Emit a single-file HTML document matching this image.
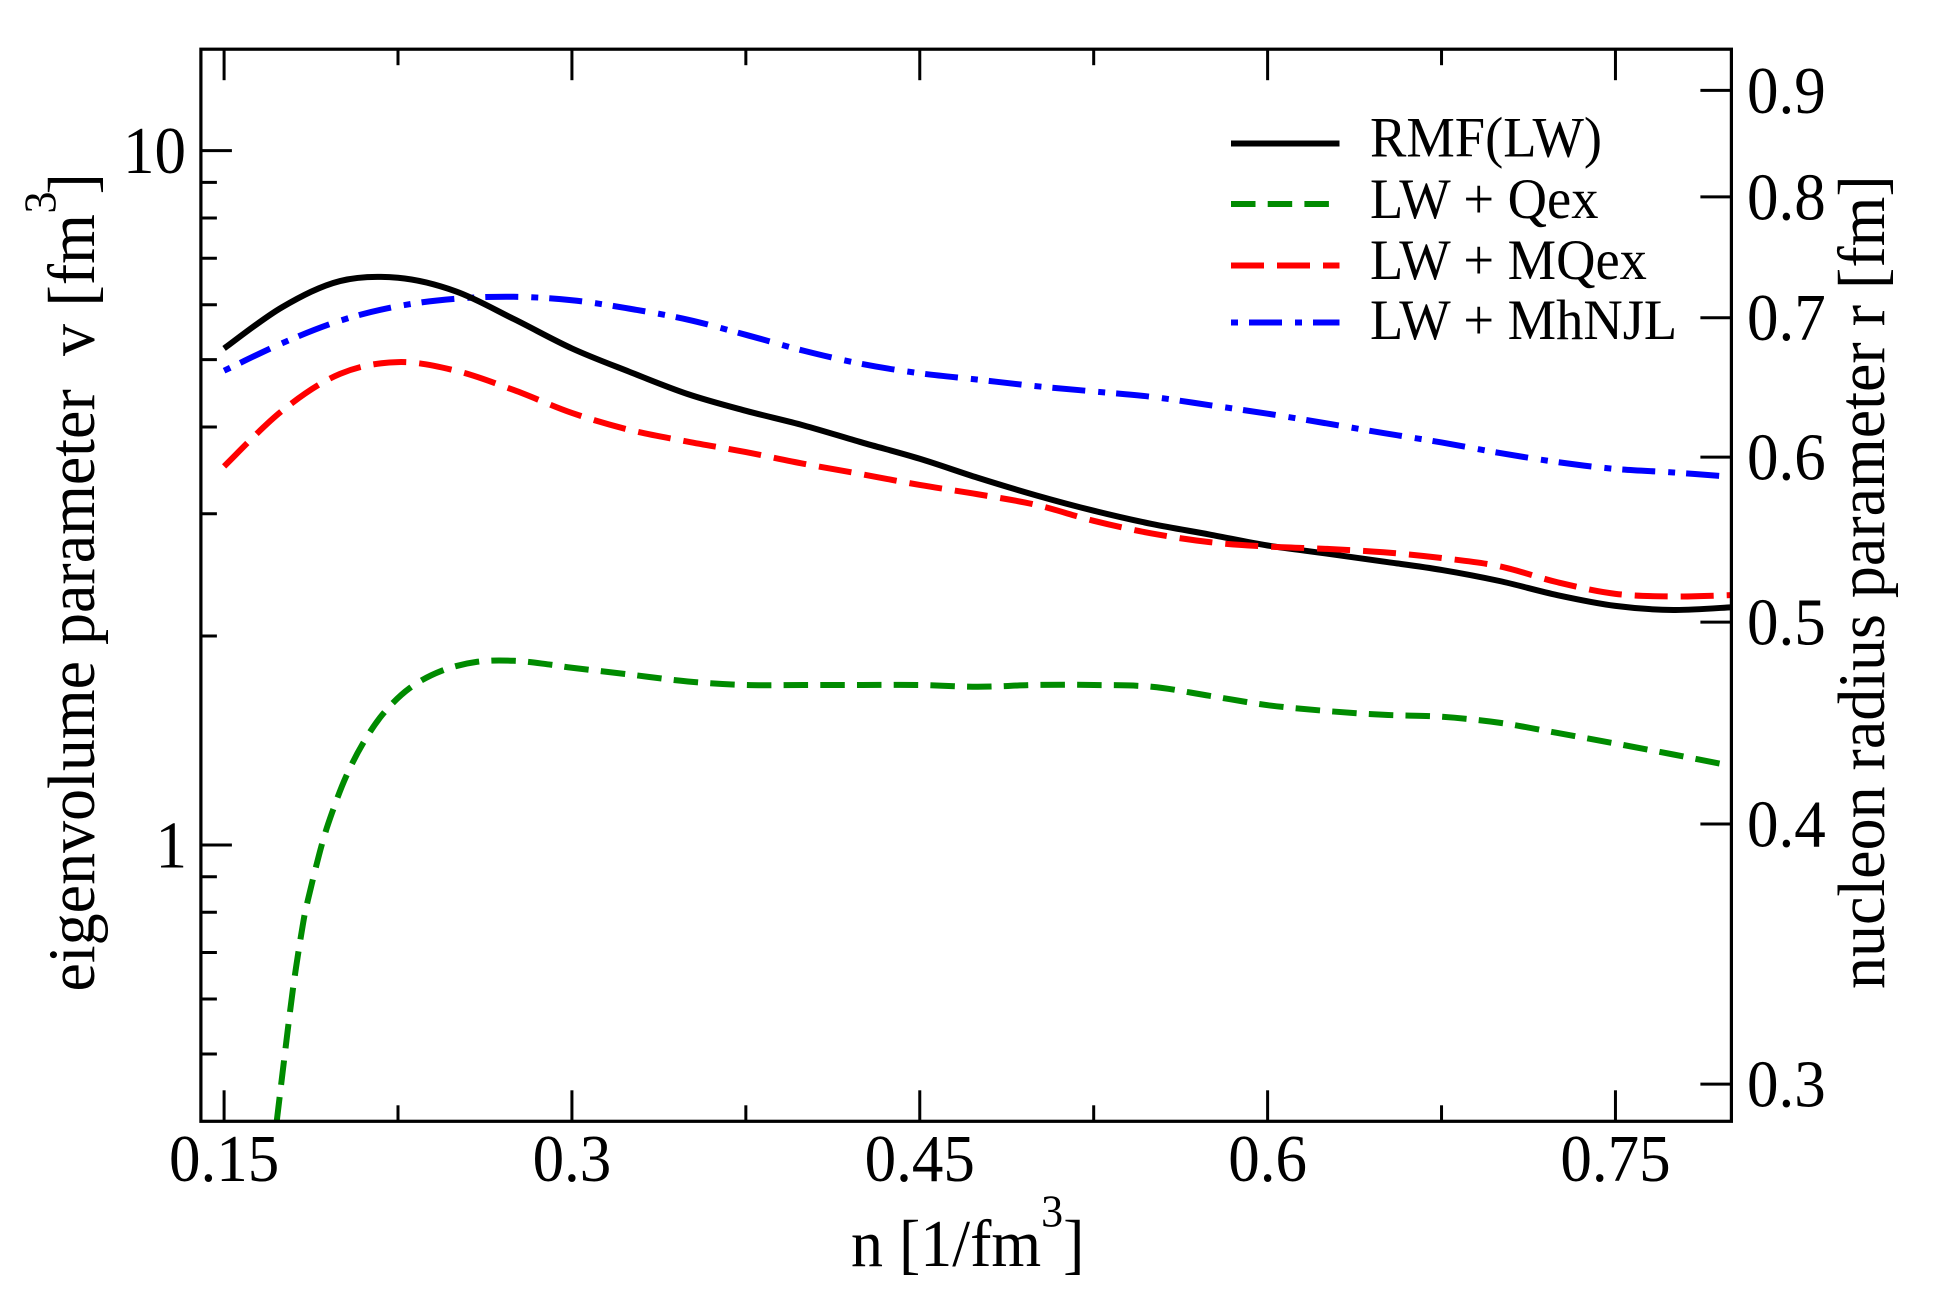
<!DOCTYPE html>
<html>
<head>
<meta charset="utf-8">
<title>Eigenvolume parameter vs density</title>
<style>
html,body{margin:0;padding:0;background:#fff;}
svg{display:block;}
text{font-family:"Liberation Serif","DejaVu Serif",serif;fill:#000;white-space:pre;}
</style>
</head>
<body>
<svg id="chart" xmlns="http://www.w3.org/2000/svg" width="1938" height="1311" viewBox="0 0 1938 1311">
  <rect x="0" y="0" width="1938" height="1311" fill="#ffffff"/>
  <defs><clipPath id="plot-clip"><rect x="201" y="49" width="1530.5" height="1072.5"/></clipPath></defs>
  <g id="series" clip-path="url(#plot-clip)"></g>
  <g id="ticks"></g>
  <rect x="200.9" y="49.2" width="1530.5" height="1072.1" fill="none" stroke="#000" stroke-width="3.2"/>
  <g id="labels" font-size="63"></g>

  <text transform="translate(851,1266) scale(1,1.04)" font-size="64">n [1/fm<tspan font-size="44" dy="-38">3</tspan><tspan dy="38">]</tspan></text>
  <text transform="translate(94,991.5) rotate(-90) scale(1,1.04)" font-size="64">eigenvolume parameter<tspan x="635.5">v</tspan><tspan x="685">[fm</tspan><tspan x="778" font-size="44" dy="-37">3</tspan><tspan x="797" dy="37">]</tspan></text>
  <text transform="translate(1884,989) rotate(-90) scale(1,1.04)" font-size="64">nucleon radius parameter r [fm]</text>

  <g font-size="54.5">
    <g>
      <line x1="1231" x2="1339.5" y1="143.5" y2="143.5" stroke="#000" stroke-width="6"/>
      <text transform="translate(1370,156.6) scale(1,1.04)">RMF(LW)</text>
    </g>
    <g>
      <line x1="1231" x2="1339.5" y1="204" y2="204" stroke="#008b00" stroke-width="6" stroke-dasharray="24.5 12.2"/>
      <text transform="translate(1370,218) scale(1,1.04)">LW + Qex</text>
    </g>
    <g>
      <line x1="1231" x2="1339.5" y1="265.5" y2="265.5" stroke="#ff0000" stroke-width="6" stroke-dasharray="33 13"/>
      <text transform="translate(1370,279) scale(1,1.04)">LW + MQex</text>
    </g>
    <g>
      <line x1="1231" x2="1339.5" y1="322.5" y2="322.5" stroke="#0000ff" stroke-width="6" stroke-dasharray="7 11 33 13"/>
      <text transform="translate(1370,339.2) scale(1,1.04)">LW + MhNJL</text>
    </g>
  </g>
</svg>
<script>
// ---- tick values and labels ----
const xMajorTicks = [0.15, 0.3, 0.45, 0.6, 0.75];
const xMajorLabels = ["0.15", "0.3", "0.45", "0.6", "0.75"];
const xMinorTicks = [0.225, 0.375, 0.525, 0.675];
const yMajorTicks = [1, 10];
const yMajorLabels = ["1", "10"];
const yMinorTicks = [0.5, 0.6, 0.7, 0.8, 0.9, 2, 3, 4, 5, 6, 7, 8, 9];
const rTicks = [0.3, 0.4, 0.5, 0.6, 0.7, 0.8, 0.9];
const rLabels = ["0.3", "0.4", "0.5", "0.6", "0.7", "0.8", "0.9"];

// ---- curve data: density n [1/fm^3] and eigenvolume v [fm^3] ----
const densityGrid = [0.15,0.175,0.2,0.225,0.25,0.275,0.3,0.325,0.35,0.375,0.4,0.425,0.45,0.475,0.5,0.525,0.55,0.575,0.6,0.625,0.65,0.675,0.7,0.725,0.75,0.775,0.8];
const rmfLw = [5.19,5.95,6.49,6.56,6.27,5.72,5.19,4.80,4.46,4.22,4.02,3.80,3.60,3.38,3.19,3.03,2.90,2.80,2.70,2.63,2.56,2.49,2.40,2.29,2.21,2.18,2.20];
const lwMqex = [3.51,4.22,4.77,4.96,4.82,4.52,4.19,3.96,3.81,3.68,3.54,3.42,3.30,3.20,3.09,2.93,2.81,2.73,2.69,2.67,2.64,2.59,2.52,2.39,2.30,2.28,2.29];
const lwMhnjl = [4.82,5.28,5.69,5.97,6.12,6.16,6.09,5.92,5.71,5.43,5.15,4.93,4.78,4.68,4.58,4.50,4.42,4.30,4.18,4.05,3.92,3.80,3.67,3.56,3.48,3.44,3.39];
const qexDensity = [0.1727,0.1766,0.180,0.1838,0.1861,0.1921,0.1968,0.2026,0.2098,0.2187,0.2302,0.2438,0.2592,0.275,0.29,0.3,0.325,0.35,0.375,0.4,0.425,0.45,0.475,0.5,0.525,0.55,0.575,0.6,0.625,0.65,0.675,0.7,0.725,0.75,0.775,0.8];
const lwQex = [0.40,0.513,0.631,0.762,0.832,1.00,1.119,1.255,1.399,1.547,1.684,1.782,1.836,1.842,1.82,1.80,1.76,1.72,1.70,1.70,1.70,1.70,1.69,1.70,1.70,1.69,1.64,1.59,1.56,1.54,1.53,1.50,1.45,1.40,1.35,1.30];

// ---- axis functions ----
const NS = "http://www.w3.org/2000/svg";
const plotLeft = 200.9, plotRight = 1731.4, plotTop = 49.2, plotBottom = 1121.3;
const xMin = 0.14, xMax = 0.8, vMin = 0.4, vMax = 14;
function xScale(n) { return plotLeft + (n - xMin) / (xMax - xMin) * (plotRight - plotLeft); }
function yScale(v) { return plotBottom - (Math.log10(v) - Math.log10(vMin)) / (Math.log10(vMax) - Math.log10(vMin)) * (plotBottom - plotTop); }
function radiusToVolume(r) { return 16 * Math.PI / 3 * r * r * r; }

const seriesG = document.getElementById('series');
const ticksG = document.getElementById('ticks');
const labelsG = document.getElementById('labels');

function smoothPath(xs, ys) {
  const p = xs.map((n, i) => [xScale(n), yScale(ys[i])]);
  let d = 'M' + p[0][0].toFixed(2) + ' ' + p[0][1].toFixed(2);
  for (let i = 0; i < p.length - 1; i++) {
    const a = p[Math.max(i - 1, 0)], b = p[i], c = p[i + 1], e = p[Math.min(i + 2, p.length - 1)];
    const c1x = b[0] + (c[0] - a[0]) / 6, c1y = b[1] + (c[1] - a[1]) / 6;
    const c2x = c[0] - (e[0] - b[0]) / 6, c2y = c[1] - (e[1] - b[1]) / 6;
    d += 'C' + c1x.toFixed(2) + ' ' + c1y.toFixed(2) + ' ' + c2x.toFixed(2) + ' ' + c2y.toFixed(2) + ' ' + c[0].toFixed(2) + ' ' + c[1].toFixed(2);
  }
  return d;
}

function addLine(x1, y1, x2, y2, w, name) {
  const l = document.createElementNS(NS, 'line');
  l.setAttribute('x1', x1); l.setAttribute('y1', y1);
  l.setAttribute('x2', x2); l.setAttribute('y2', y2);
  l.setAttribute('stroke', '#000'); l.setAttribute('stroke-width', w);
  
  
  ticksG.appendChild(l);
}

function addLabel(x, y, str, anchor, name) {
  const t = document.createElementNS(NS, 'text');
  t.setAttribute('transform', 'translate(' + x + ',' + y + ') scale(1,1.06)');
  t.setAttribute('text-anchor', anchor);
  t.textContent = str;
  
  
  labelsG.appendChild(t);
}

function addCurve(xs, ys, color, dash, name) {
  const c = document.createElementNS(NS, 'path');
  c.setAttribute('d', smoothPath(xs, ys));
  c.setAttribute('fill', 'none');
  c.setAttribute('stroke', color);
  c.setAttribute('stroke-width', '6');
  if (dash) c.setAttribute('stroke-dasharray', dash);
  
  
  seriesG.appendChild(c);
}

addCurve(densityGrid, lwMhnjl, '#0000ff', '7 11 33 13', 'curve-lw-mhnjl');
addCurve(qexDensity, lwQex, '#008b00', '24.5 12.2', 'curve-lw-qex');
addCurve(densityGrid, rmfLw, '#000000', '', 'curve-rmf-lw');
addCurve(densityGrid, lwMqex, '#ff0000', '33 13', 'curve-lw-mqex');

const majorLen = 31, minorLen = 16;
xMajorTicks.forEach((n, i) => {
  const x = xScale(n);
  addLine(x, plotBottom, x, plotBottom - majorLen, 3, 'x-major-tick-bottom');
  addLine(x, plotTop, x, plotTop + majorLen, 3, 'x-major-tick-top');
  addLabel(x, 1181, xMajorLabels[i], 'middle', 'x-tick-label');
});
xMinorTicks.forEach(n => {
  const x = xScale(n);
  addLine(x, plotBottom, x, plotBottom - minorLen, 3, 'x-minor-tick-bottom');
  addLine(x, plotTop, x, plotTop + minorLen, 3, 'x-minor-tick-top');
});
yMajorTicks.forEach((v, i) => {
  const y = yScale(v);
  addLine(plotLeft, y, plotLeft + majorLen, y, 3, 'y-major-tick');
  addLabel(yMajorLabels[i].length === 1 ? 187 : 186, y + 22.5, yMajorLabels[i], 'end', 'y-tick-label');
});
yMinorTicks.forEach(v => {
  const y = yScale(v);
  addLine(plotLeft, y, plotLeft + minorLen, y, 3, 'y-minor-tick');
});
rTicks.forEach((r, i) => {
  const y = yScale(radiusToVolume(r));
  addLine(plotRight, y, plotRight - majorLen, y, 3, 'right-axis-tick');
  addLabel(1747, y + 22.5, rLabels[i], 'start', 'right-axis-tick-label');
});
</script>
</body>
</html>
